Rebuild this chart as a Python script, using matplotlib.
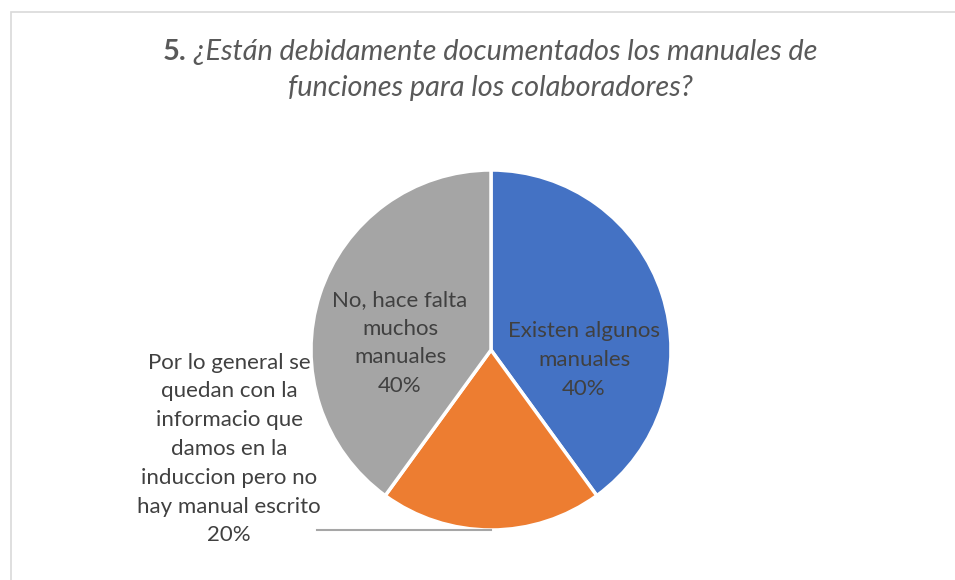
import matplotlib.pyplot as plt
from matplotlib.patches import Rectangle

# datos
categorias = ["Existen algunos\nmanuales",
              "Por lo general se\nquedan con la\ninformacio que\ndamos en la\ninduccion pero no\nhay manual escrito",
              "No, hace falta\nmuchos\nmanuales"]
valores = [40, 20, 40]
colores = ["#4472C4", "#ED7D31", "#A5A5A5"]
titulo_num = "5."
titulo_1 = " ¿Están debidamente documentados los manuales de"
titulo_2 = "funciones para los colaboradores?"

W, H = 955, 580
fig = plt.figure(figsize=(W / 100, H / 100), dpi=100)
ax = fig.add_axes([0, 0, 1, 1])

# marco del grafico
ax.add_patch(Rectangle((11, -5), W, H - 12 + 5, fill=False, edgecolor="#D9D9D9", lw=1.2))

cx, cy, r = 491, H - 350, 180
wedges, _ = ax.pie(valores, colors=colores, startangle=90, counterclock=False,
                   center=(cx, cy), radius=r, frame=True,
                   wedgeprops=dict(edgecolor="white", linewidth=2.5))
ax.set_xlim(0, W)
ax.set_ylim(0, H)
ax.set_aspect("equal")
ax.axis("off")

fuente = "Lato"
gris = "#404040"
total = sum(valores)
pcts = [f"{round(v / total * 100)}%" for v in valores]

# etiquetas
pos = [(584, H - 360), (229, H - 449), (400, H - 343)]
for cat, p, (x, y) in zip(categorias, pcts, pos):
    ax.text(x, y, f"{cat}\n{p}", ha="center", va="center", fontsize=16,
            color=gris, family=fuente, linespacing=1.55)

# linea guia de la etiqueta exterior
ax.plot([317, cx], [H - 530, H - 530], color="#A6A6A6", lw=1.5)

# titulo
fs_t = 20.8
t1 = ax.text(490, H - 52, titulo_num + titulo_1, ha="center", va="center", fontsize=fs_t,
             color="#595959", family=fuente, style="italic", alpha=0)
fig.canvas.draw()
bb = t1.get_window_extent()
tn = ax.text(bb.x0, H - 52, titulo_num, ha="left", va="center", fontsize=fs_t,
             color="#595959", family=fuente, weight="bold")
bn = tn.get_window_extent(renderer=fig.canvas.get_renderer())
ax.text(bb.x0 + bn.width, H - 52, titulo_1, ha="left", va="center", fontsize=fs_t,
        color="#595959", family=fuente, style="italic")
ax.text(490, H - 88, titulo_2, ha="center", va="center", fontsize=fs_t,
        color="#595959", family=fuente, style="italic")

fig.savefig("out.png", dpi=100, facecolor="white")
